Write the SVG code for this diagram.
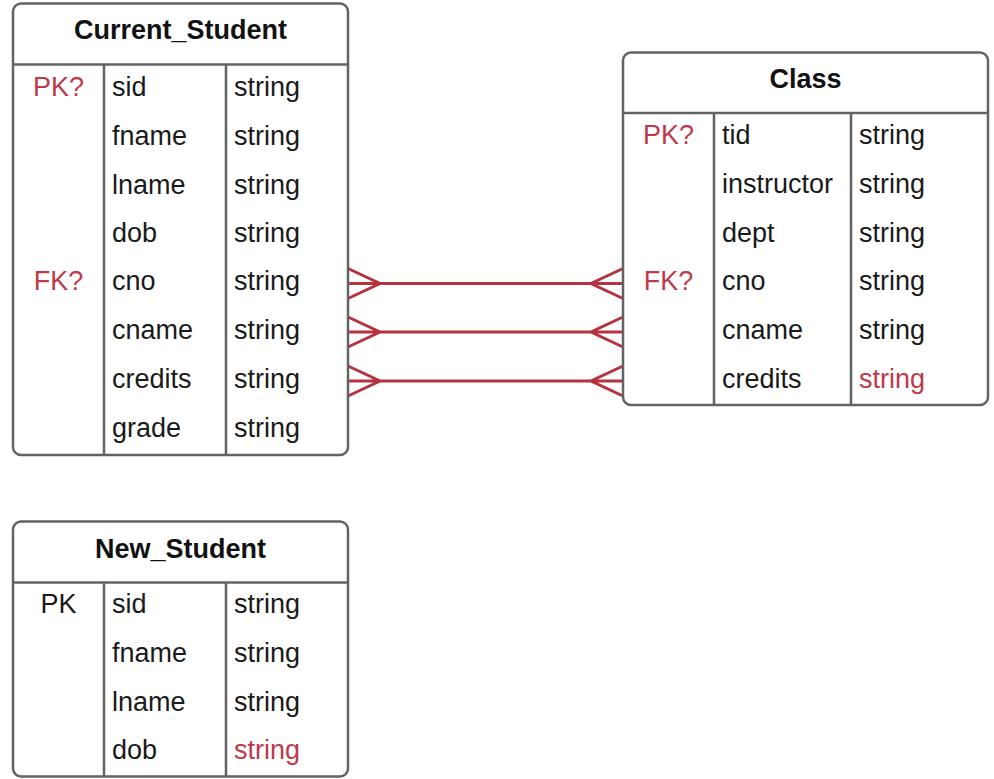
<svg xmlns="http://www.w3.org/2000/svg" width="994" height="779" viewBox="0 0 994 779">
<style>
.box{fill:#fff;stroke:#636363;stroke-width:2.5}
.ln{stroke:#636363;stroke-width:2.5;fill:none}
.t{font-family:"Liberation Sans",Arial,sans-serif;font-size:27px;fill:#1a1a1a}
.h{font-family:"Liberation Sans",Arial,sans-serif;font-size:27px;font-weight:bold;fill:#111;text-anchor:middle}
.k{text-anchor:middle}
.r{fill:#c0394b}
.c{stroke:#b5333f;stroke-width:3;fill:none}
</style>
<rect width="994" height="779" fill="#fff"/>
<g id="connectors">
<path class="c" d="M348 283.5H623M348 268.5L380 283.5L348 298.5M623 268.5L591 283.5L623 298.5"/>
<path class="c" d="M348 332H623M348 317L380 332L348 347M623 317L591 332L623 347"/>
<path class="c" d="M348 381H623M348 366L380 381L348 396M623 366L591 381L623 396"/>
</g>
<g id="Current_Student">
<rect class="box" x="13" y="3.5" width="335" height="451.5" rx="8"/>
<path class="ln" d="M13 64.5H348M104 64.5V455M226 64.5V455"/>
<text class="h" x="180.5" y="39">Current_Student</text>
<text class="t k r" x="58.5" y="96">PK?</text>
<text class="t k r" x="58.5" y="290">FK?</text>
<text class="t" x="112" y="96">sid</text>
<text class="t" x="112" y="145">fname</text>
<text class="t" x="112" y="193.5">lname</text>
<text class="t" x="112" y="242">dob</text>
<text class="t" x="112" y="290">cno</text>
<text class="t" x="112" y="339">cname</text>
<text class="t" x="112" y="388">credits</text>
<text class="t" x="112" y="437">grade</text>
<text class="t" x="234" y="96">string</text>
<text class="t" x="234" y="145">string</text>
<text class="t" x="234" y="193.5">string</text>
<text class="t" x="234" y="242">string</text>
<text class="t" x="234" y="290">string</text>
<text class="t" x="234" y="339">string</text>
<text class="t" x="234" y="388">string</text>
<text class="t" x="234" y="437">string</text>
</g>
<g id="Class">
<rect class="box" x="623" y="52.5" width="365" height="352.5" rx="8"/>
<path class="ln" d="M623 113H988M714 113V405M851 113V405"/>
<text class="h" x="805.5" y="88">Class</text>
<text class="t k r" x="668.5" y="144">PK?</text>
<text class="t k r" x="668.5" y="290">FK?</text>
<text class="t" x="722" y="144">tid</text>
<text class="t" x="722" y="193">instructor</text>
<text class="t" x="722" y="242">dept</text>
<text class="t" x="722" y="290">cno</text>
<text class="t" x="722" y="339">cname</text>
<text class="t" x="722" y="388">credits</text>
<text class="t" x="859" y="144">string</text>
<text class="t" x="859" y="193">string</text>
<text class="t" x="859" y="242">string</text>
<text class="t" x="859" y="290">string</text>
<text class="t" x="859" y="339">string</text>
<text class="t r" x="859" y="388">string</text>
</g>
<g id="New_Student">
<rect class="box" x="13" y="521.5" width="335" height="255" rx="8"/>
<path class="ln" d="M13 582.5H348M104 582.5V776.5M226 582.5V776.5"/>
<text class="h" x="180.5" y="558">New_Student</text>
<text class="t k" x="58.5" y="613">PK</text>
<text class="t" x="112" y="613">sid</text>
<text class="t" x="112" y="662">fname</text>
<text class="t" x="112" y="711">lname</text>
<text class="t" x="112" y="759">dob</text>
<text class="t" x="234" y="613">string</text>
<text class="t" x="234" y="662">string</text>
<text class="t" x="234" y="711">string</text>
<text class="t r" x="234" y="759">string</text>
</g>
</svg>
